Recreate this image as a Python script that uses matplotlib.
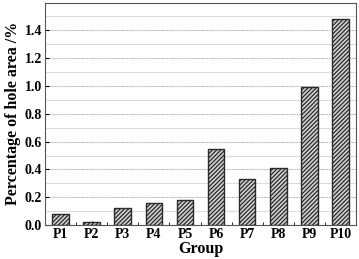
import numpy as np
import matplotlib.pyplot as plt
from matplotlib.ticker import MultipleLocator

groups = ["P1", "P2", "P3", "P4", "P5", "P6", "P7", "P8", "P9", "P10"]
hole_area = [0.08, 0.02, 0.12, 0.16, 0.18, 0.55, 0.33, 0.41, 0.99, 1.48]

plt.rcParams["font.family"] = "Liberation Serif"
plt.rcParams["font.weight"] = "bold"
plt.rcParams["hatch.color"] = "#2a2a2a"
plt.rcParams["hatch.linewidth"] = 0.9

fig, ax = plt.subplots(figsize=(3.59, 2.59), dpi=100)
fig.subplots_adjust(left=0.125, right=0.992, top=0.99, bottom=0.131)

x = np.arange(len(groups))
ax.set_axisbelow(True)
ax.bar(x, hole_area, width=0.53, color="#d0d0d0", edgecolor="#2a2a2a",
       linewidth=1.0, hatch="////////")

ax.set_xlim(-0.5, 9.5)
ax.set_ylim(0, 1.6)
ax.yaxis.set_minor_locator(MultipleLocator(0.1))
ax.set_yticks([0.0, 0.2, 0.4, 0.6, 0.8, 1.0, 1.2, 1.4])
ax.set_xticks(x)
ax.set_xticklabels(groups)
ax.set_xticks(x[:-1] + 0.5, minor=True)

ax.grid(axis="y", which="major", color="#888888", linestyle=(0, (1, 1)), linewidth=0.6)
ax.grid(axis="y", which="minor", color="#dddddd", linestyle="-", linewidth=0.8)
ax.tick_params(which="both", direction="in", labelsize=10, pad=2)
ax.tick_params(which="major", length=3)
ax.tick_params(which="minor", length=2)
ax.tick_params(axis="y", which="minor", length=0)
for s in ax.spines.values():
    s.set_color("#555555")

ax.set_xlabel("Group", fontsize=11.5, fontweight="bold", labelpad=0)
ax.set_ylabel("Percentage of hole area /%", fontsize=11.5, fontweight="bold", labelpad=3)

fig.savefig("out.png", dpi=100)
